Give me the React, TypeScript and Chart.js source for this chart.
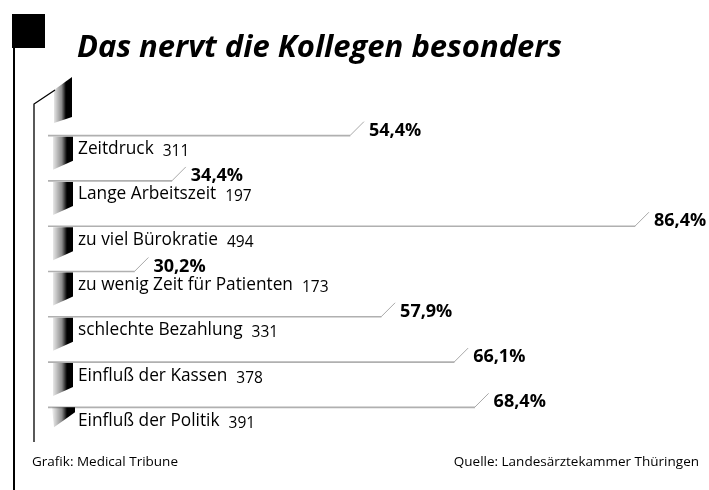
import React, { useEffect, useRef } from "react";
import { Chart, registerables } from "chart.js";

Chart.register(...registerables);

const TITLE = "Das nervt die Kollegen besonders";
const categories = [
  "Zeitdruck",
  "Lange Arbeitszeit",
  "zu viel Bürokratie",
  "zu wenig Zeit für Patienten",
  "schlechte Bezahlung",
  "Einfluß der Kassen",
  "Einfluß der Politik",
];
const percentages = [54.4, 34.4, 86.4, 30.2, 57.9, 66.1, 68.4];
const counts = [311, 197, 494, 173, 331, 378, 391];
const FOOT_LEFT = "Grafik: Medical Tribune";
const FOOT_RIGHT = "Quelle: Landesärztekammer Thüringen";

const FONT = '"Open Sans", "DejaVu Sans", sans-serif';

function fmt(v: number) {
  return v.toFixed(1).replace(".", ",") + "%";
}

const decorPlugin = {
  id: "decor",
  afterDatasetsDraw(chart: any) {
    const ctx = chart.ctx as CanvasRenderingContext2D;
    const meta = chart.getDatasetMeta(0);
    ctx.save();

    // flag square and left rule
    ctx.fillStyle = "#000";
    ctx.fillRect(12, 14, 33, 34);
    ctx.fillRect(13, 47, 2, 443);

    // title
    ctx.font = `italic bold 31px ${FONT}`;
    ctx.textBaseline = "alphabetic";
    ctx.textAlign = "left";
    ctx.fillText(TITLE, 77, 57);

    // inner rule with slanted top
    ctx.strokeStyle = "#000";
    ctx.lineWidth = 1.3;
    ctx.beginPath();
    ctx.moveTo(34, 442);
    ctx.lineTo(34, 104);
    ctx.lineTo(55, 90);
    ctx.stroke();

    const grad = (x0: number, x1: number) => {
      const g = ctx.createLinearGradient(x0, 0, x1, 0);
      g.addColorStop(0, "rgba(0,0,0,0.05)");
      g.addColorStop(0.45, "rgba(0,0,0,0.45)");
      g.addColorStop(0.68, "#000");
      g.addColorStop(1, "#000");
      return g;
    };

    // header block
    ctx.fillStyle = grad(53, 72);
    ctx.beginPath();
    ctx.moveTo(54, 90);
    ctx.lineTo(72, 77);
    ctx.lineTo(72, 117);
    ctx.lineTo(54, 123);
    ctx.closePath();
    ctx.fill();

    meta.data.forEach((el: any, i: number) => {
      const y = el.y;
      const xEnd = el.x;
      // slanted end of the bar line
      ctx.strokeStyle = "#a8a8a8";
      ctx.lineWidth = 1;
      ctx.beginPath();
      ctx.moveTo(xEnd, y);
      ctx.lineTo(xEnd + 14, y - 14);
      ctx.stroke();

      // percentage label
      ctx.fillStyle = "#000";
      ctx.font = `bold 18px ${FONT}`;
      ctx.textBaseline = "alphabetic";
      ctx.textAlign = "left";
      ctx.fillText(fmt(percentages[i]), xEnd + 19, y);

      // gradient block
      ctx.fillStyle = grad(52, 74);
      ctx.beginPath();
      if (i === categories.length - 1) {
        ctx.moveTo(52, y);
        ctx.lineTo(75, y);
        ctx.lineTo(75, y + 5);
        ctx.lineTo(54, y + 20);
      } else {
        ctx.moveTo(53, y + 1);
        ctx.lineTo(73, y + 1);
        ctx.lineTo(73, y + 25);
        ctx.lineTo(53, y + 34);
      }
      ctx.closePath();
      ctx.fill();

      // category + count
      ctx.fillStyle = "#000";
      ctx.font = `17.3px ${FONT}`;
      ctx.textBaseline = "alphabetic";
      const label = categories[i];
      ctx.fillText(label, 78, y + 18.5);
      const w = ctx.measureText(label).width;
      ctx.font = `15.5px ${FONT}`;
      ctx.fillText(String(counts[i]), 78 + w + 9, y + 20.5);
    });

    // footer
    ctx.font = `13.5px ${FONT}`;
    ctx.textBaseline = "middle";
    ctx.fillStyle = "#000";
    ctx.textAlign = "left";
    ctx.fillText(FOOT_LEFT, 32, 462);
    ctx.textAlign = "right";
    ctx.fillText(FOOT_RIGHT, 699, 462);

    ctx.restore();
  },
};

export default function App() {
  const ref = useRef<HTMLCanvasElement | null>(null);
  useEffect(() => {
    if (!ref.current) return;
    const chart = new Chart(ref.current, {
      type: "bar",
      data: {
        labels: categories,
        datasets: [
          {
            data: percentages,
            backgroundColor: "#b0b0b0",
            barThickness: 1,
          },
        ],
      },
      options: {
        indexAxis: "y",
        animation: false,
        responsive: false,
        devicePixelRatio: 1,
        layout: { padding: { left: 48, right: 42, top: 113, bottom: 60 } },
        scales: {
          x: { type: "linear", min: 20.5, max: 90, display: false },
          y: { type: "category", display: false },
        },
        plugins: {
          legend: { display: false },
          title: { display: false },
          tooltip: { enabled: false },
        },
      },
      plugins: [decorPlugin],
    } as any);
    return () => chart.destroy();
  }, []);
  return (
    <div style={{ position: "absolute", left: 0, top: 0, width: 709, height: 490, background: "#fff" }}>
      <canvas ref={ref} width={709} height={490} />
    </div>
  );
}
